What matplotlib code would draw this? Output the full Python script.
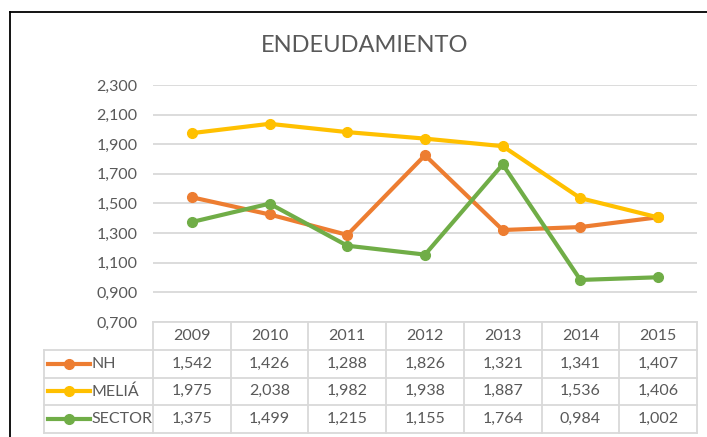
import matplotlib.pyplot as plt
from matplotlib.lines import Line2D

years = ["2009", "2010", "2011", "2012", "2013", "2014", "2015"]
nh = [1.542, 1.426, 1.288, 1.826, 1.321, 1.341, 1.407]
melia = [1.975, 2.038, 1.982, 1.938, 1.887, 1.536, 1.406]
sector = [1.375, 1.499, 1.215, 1.155, 1.764, 0.984, 1.002]
series_names = ["NH", "MELIÁ", "SECTOR"]
series_colors = ["#ED7D31", "#FFC000", "#70AD47"]
yticks = [0.7, 0.9, 1.1, 1.3, 1.5, 1.7, 1.9, 2.1, 2.3]

plt.rcParams["font.family"] = ["Lato", "DejaVu Sans"]
text_color = "#595959"
grid_color = "#D9D9D9"
fs = 11.5

W, H = 707, 437
fig = plt.figure(figsize=(W / 100, H / 100), dpi=100)

def px(x0, y0, x1, y1):
    return [x0 / W, 1 - y1 / H, (x1 - x0) / W, (y1 - y0) / H]

# chart border (left and top visible)
fig.add_artist(Line2D([10 / W, 10 / W], [0, 1 - 12 / H], color="black", lw=1.3))
fig.add_artist(Line2D([10 / W, 1], [1 - 12 / H, 1 - 12 / H], color="black", lw=1.3))

fig.text(365 / W, 1 - 46 / H, "ENDEUDAMIENTO", ha="center", va="center",
         fontsize=17, color=text_color)

# ====== line chart ======
ax = fig.add_axes(px(153, 85, 697, 322))
x = list(range(len(years)))
all_series = [nh, melia, sector]
for vals, col in zip(all_series, series_colors):
    ax.plot(x, vals, color=col, lw=3, marker="o", markersize=7, zorder=3)
ax.set_xlim(-0.5, len(years) - 0.5)
ax.set_ylim(0.7, 2.3)
ax.set_yticks(yticks)
ax.set_yticklabels([f"{v:.3f}".replace(".", ",") for v in yticks])
ax.yaxis.grid(True, color=grid_color, lw=1.3)
ax.set_axisbelow(True)
ax.set_xticks([])
ax.tick_params(axis="y", length=0, pad=11, labelsize=fs, labelcolor=text_color)
for s in ax.spines.values():
    s.set_visible(False)

# ====== data table ======
left_ext = -0.5 - (153 - 44) / ((697 - 153) / len(years))
tb = fig.add_axes(px(44, 322, 697, 433))
tb.set_xlim(left_ext, len(years) - 0.5)
tb.set_ylim(4, 0)
tb.axis("off")
lc = dict(color=grid_color, lw=1.3, clip_on=False)
tb.plot([-0.5, len(years) - 0.5], [0, 0], **lc)
for r in range(1, 5):
    tb.plot([left_ext, len(years) - 0.5], [r, r], **lc)
tb.plot([left_ext, left_ext], [1, 4], **lc)
for i in range(len(years) + 1):
    tb.plot([i - 0.5, i - 0.5], [0, 4], **lc)

for i, yr in enumerate(years):
    tb.text(i, 0.5, yr, ha="center", va="center", fontsize=fs, color=text_color)
for r, (name, vals, col) in enumerate(zip(series_names, all_series, series_colors), start=1):
    for i, v in enumerate(vals):
        tb.text(i, r + 0.5, f"{v:.3f}".replace(".", ","), ha="center",
                va="center", fontsize=fs, color=text_color)
    lx0 = left_ext + 4 / 77.7
    lx1 = left_ext + 46 / 77.7
    tb.plot([lx0, lx1], [r + 0.5, r + 0.5], color=col, lw=3, clip_on=False)
    tb.plot([(lx0 + lx1) / 2], [r + 0.5], color=col, marker="o", markersize=7,
            clip_on=False)
    tb.text(lx1 + 1 / 77.7, r + 0.5, name, ha="left", va="center",
            fontsize=fs, color=text_color)

plt.savefig("out.png", dpi=100)
